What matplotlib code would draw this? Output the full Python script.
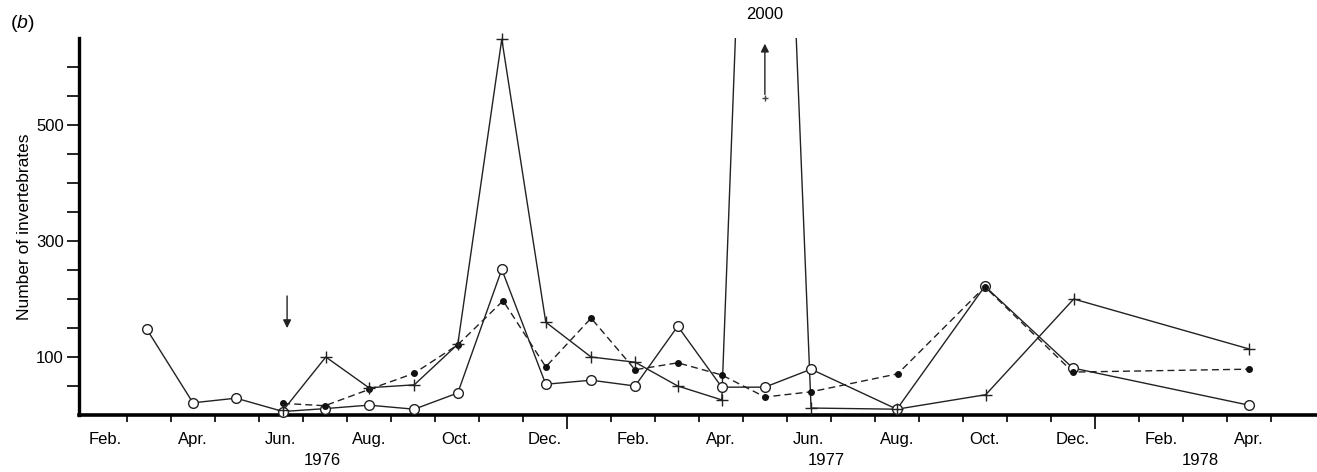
import numpy as np
import matplotlib
matplotlib.use("Agg")
import matplotlib.pyplot as plt

plt.rcParams['font.family'] = ['Liberation Sans', 'DejaVu Sans']
plt.rcParams['mathtext.fontset'] = 'custom'
plt.rcParams['mathtext.it'] = 'Liberation Sans:italic'
plt.rcParams['mathtext.rm'] = 'Liberation Sans'

# x = months since 1 Jan 1976
circ_x = [2.45, 3.5, 4.48, 5.55, 6.5, 7.5, 8.53, 9.52, 10.52, 11.52, 12.55, 13.55,
          14.52, 15.52, 16.5, 17.55, 19.5, 21.5, 23.5, 27.5]
circ_y = [148, 21, 29, 6, 11, 17, 10, 38, 251, 53, 60, 50,
          153, 48, 48, 79, 10, 222, 81, 17]

dot_x = [5.55, 6.5, 7.5, 8.53, 9.52, 10.55, 11.52, 12.55, 13.55, 14.52, 15.52,
         16.5, 17.55, 19.52, 21.5, 23.5, 27.5]
dot_y = [20, 16, 44, 72, 121, 197, 83, 167, 78, 90, 69,
         31, 40, 71, 221, 74, 79]

plus_x = [5.55, 6.52, 7.5, 8.53, 9.52, 10.52, 11.52, 12.55, 13.55, 14.52, 15.52,
          16.5, 17.55, 19.5, 21.52, 23.52, 27.5]
plus_y = [8, 100, 47, 52, 122, 648, 160, 100, 91, 50, 26,
          2000, 12, 10, 35, 200, 114]

month_names = ["Feb.", "Apr.", "Jun.", "Aug.", "Oct.", "Dec.",
               "Feb.", "Apr.", "Jun.", "Aug.", "Oct.", "Dec.",
               "Feb.", "Apr."]
month_starts = [1, 3, 5, 7, 9, 11, 13, 15, 17, 19, 21, 23, 25, 27]
years = ["1976", "1977", "1978"]
year_pos = [6.45, 17.9, 26.4]
ytick_vals = list(range(50, 601, 50))
ytick_labels = ["100" if v == 100 else "300" if v == 300 else "500" if v == 500 else ""
                for v in ytick_vals]

fig = plt.figure(figsize=(13.17, 4.72), dpi=100)
ax = fig.add_axes([79 / 1317, 1 - 415 / 472, 1 - 79 / 1317, 377 / 472])

ymax = 650
ax.set_xlim(0.91, 29.05)
ax.set_ylim(0, ymax)

lw = 1.0
# open circles, solid
ax.plot(circ_x, circ_y, '-', color='#222222', lw=lw)
ax.plot(circ_x, circ_y, 'o', mfc='white', mec='#222222', mew=1.0, ms=7,
        clip_on=False, zorder=4)
# filled dots, dashed
ax.plot(dot_x, dot_y, '--', color='#222222', lw=lw, dashes=(5, 3))
ax.plot(dot_x, dot_y, 'o', color='#111111', ms=4, clip_on=False, zorder=5)
# plus markers, solid (May 1977 point off scale)
px = np.array(plus_x)
py = np.array(plus_y)
ax.plot(px, py, '-', color='#222222', lw=lw)
ax.plot(px[py <= ymax], py[py <= ymax], '+', color='#222222', ms=9, mew=1.0,
        clip_on=False, zorder=5)

# off-scale marker and arrow
off_x = px[py > ymax][0]
ax.plot([off_x], [546], '+', color='#444444', ms=4, mew=1.0)
ax.annotate("", xy=(off_x, 645), xytext=(off_x, 548),
            arrowprops=dict(arrowstyle='-|>', color='#222222', lw=1.0,
                            mutation_scale=12), annotation_clip=False)
ax.text(off_x, 690, "2000", ha='center', va='center', fontsize=12, clip_on=False)

# arrow June 1976
ax.annotate("", xy=(5.64, 145), xytext=(5.64, 210),
            arrowprops=dict(arrowstyle='-|>', color='#222222', lw=1.0,
                            mutation_scale=12))

# spines
for s in ['top', 'right']:
    ax.spines[s].set_visible(False)
ax.spines['left'].set_linewidth(2.4)
ax.spines['bottom'].set_linewidth(2.6)

# y axis
ax.set_yticks(ytick_vals)
ax.set_yticklabels(ytick_labels, fontsize=12)
ax.tick_params(axis='y', direction='out', length=9, width=1.2, pad=2)
ax.set_ylabel("Number of invertebrates", fontsize=12.5, labelpad=3)

# x axis: ticks at month boundaries, labels centred in months
bounds = list(range(2, 29))
ax.set_xticks(bounds)
ax.set_xticklabels([""] * len(bounds))
ax.tick_params(axis='x', which='major', direction='out', length=5, width=1.2)
ax.set_xticks([m + 0.5 for m in month_starts], minor=True)
ax.set_xticklabels(month_names, minor=True, fontsize=12)
ax.tick_params(axis='x', which='minor', length=0, pad=12)
for t, b in zip(ax.xaxis.get_major_ticks(), bounds):
    if b in (12, 24):
        t.tick1line.set_markersize(10)

for yr, xp in zip(years, year_pos):
    ax.text(xp, -78, yr, ha='center', va='center', fontsize=12, clip_on=False)

fig.text(10 / 1317, 1 - 24 / 472, r"($\mathit{b}$)", fontsize=14, ha='left', va='center')

fig.savefig("out.png", dpi=100)
